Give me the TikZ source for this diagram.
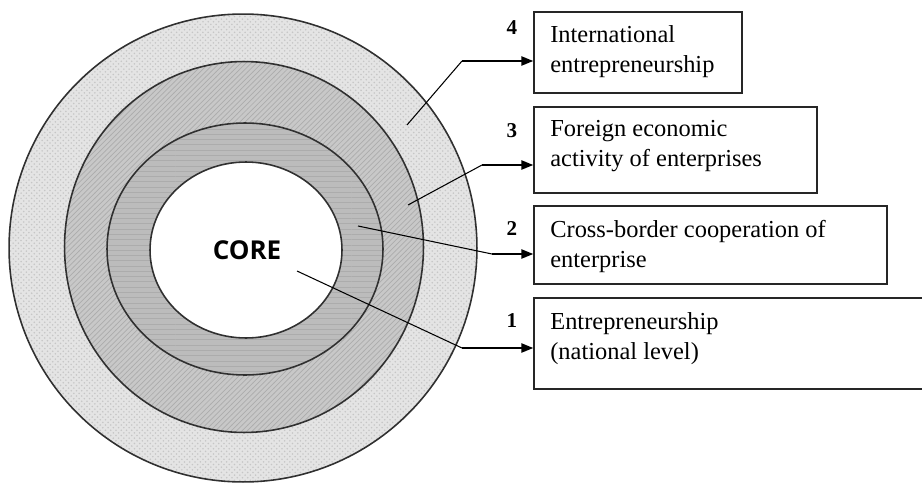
\documentclass[tikz,border=0pt]{standalone}
\usepackage{fontspec}
\setmainfont{Liberation Serif}
\newfontfamily\corefont{Open Sans}
\usetikzlibrary{arrows.meta, fit, patterns}
\definecolor{ringlight}{HTML}{E4E4E4}
\definecolor{ringmid}{HTML}{C8C8C8}
\definecolor{ringdark}{HTML}{BCBCBC}
\definecolor{edgegray}{HTML}{303030}

\begin{document}
\begin{tikzpicture}[x=0.02cm, y=-0.02cm,
  ring/.style={draw=edgegray, line width=0.9pt},
  frame/.style={draw=black!85, line width=0.8pt, inner sep=0pt},
  boxtext/.style={anchor=north west, inner sep=0pt, align=left, font=\fontsize{13.9}{17}\selectfont},
  num/.style={anchor=base, inner sep=0pt, font=\bfseries\fontsize{12}{14}\selectfont},
  leader/.style={line width=0.6pt},
  pointer/.style={line width=1.1pt, -{Triangle[length=6.8pt, width=5.2pt]}}]
  \clip (0,0) rectangle (922,483);

  % Rings, outermost first
  \fill[ringlight, postaction={pattern=crosshatch dots, pattern color=gray!45}] (243,248) circle (4.68cm);
  \fill[ringmid, postaction={pattern=north east lines, pattern color=gray!65}] (244,247) ellipse (3.59cm and 3.71cm);
  \fill[ringdark, postaction={pattern=horizontal lines, pattern color=gray!65}] (245,249) ellipse (2.76cm and 2.52cm);
  \fill[white] (246,250) ellipse (1.92cm and 1.76cm);

  \draw[ring] (243,248) circle (4.68cm);
  \draw[ring] (244,247) ellipse (3.59cm and 3.71cm);
  \draw[ring] (245,249) ellipse (2.76cm and 2.52cm);
  \draw[ring] (246,250) ellipse (1.92cm and 1.76cm);

  \node[anchor=base, inner sep=0pt, font=\corefont\bfseries\fontsize{14.8}{17}\selectfont] (core) at (247,259) {CORE};

  % Boxes
  \node[frame, fit={(534,12) (742,93)}] (b4) {};
  \node[frame, fit={(534,107) (817,193)}] (b3) {};
  \node[frame, fit={(534,206) (887,284)}] (b2) {};
  \node[frame, fit={(534,298) (935,389)}] (b1) {};

  \node[boxtext] (t4) at (550,25.3) {International\\entrepreneurship};
  \node[boxtext] (t3) at (550,120.3) {Foreign economic\\activity of enterprises};
  \node[boxtext] (t2) at (550,220.3) {Cross-border cooperation of\\enterprise};
  \node[boxtext] (t1) at (550,312.3) {Entrepreneurship\\(national level)};

  % Level numbers
  \node[num] (n4) at (512,35) {4};
  \node[num] (n3) at (512,137) {3};
  \node[num] (n2) at (512,235) {2};
  \node[num] (n1) at (512,327) {1};

  % Leaders from rings to boxes
  \coordinate (p4) at (407,125); \coordinate (k4) at (462,61);
  \coordinate (p3) at (408,205); \coordinate (k3) at (482,165);
  \coordinate (p2) at (358,226); \coordinate (k2) at (492,254);
  \coordinate (p1) at (297,271); \coordinate (k1) at (462,348);

  \draw[leader] (p4) -- (k4);
  \draw[pointer] (k4) -- (k4 -| b4.west);
  \draw[leader] (p3) -- (k3);
  \draw[pointer] (k3) -- (k3 -| b3.west);
  \draw[leader] (p2) -- (k2);
  \draw[pointer] (k2) -- (k2 -| b2.west);
  \draw[leader] (p1) -- (k1);
  \draw[pointer] (k1) -- (k1 -| b1.west);
\end{tikzpicture}
\end{document}
